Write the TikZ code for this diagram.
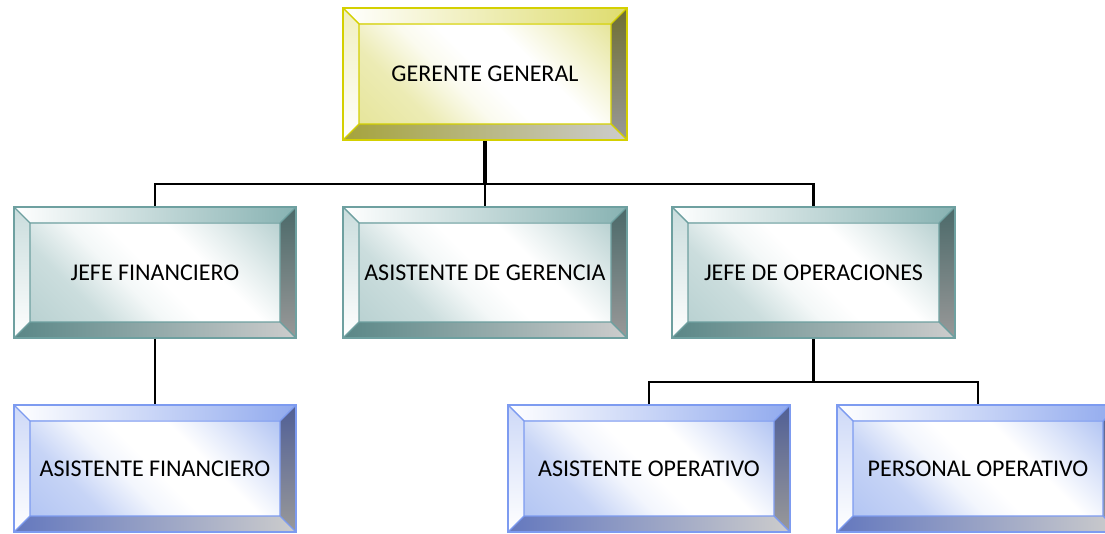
\documentclass[tikz,border=0pt]{standalone}
\usepackage{fontspec}
\setmainfont{Carlito}
\definecolor{YB}{RGB}{212,208,0}
\definecolor{YF}{RGB}{214,212,90}
\definecolor{YT}{RGB}{222,220,110}
\definecolor{YR}{RGB}{110,110,50}
\definecolor{YD}{RGB}{165,163,60}
\definecolor{TB}{RGB}{110,160,160}
\definecolor{TF}{RGB}{140,180,180}
\definecolor{TT}{RGB}{135,178,178}
\definecolor{TR}{RGB}{75,105,105}
\definecolor{TD}{RGB}{90,135,135}
\definecolor{BB}{RGB}{125,155,240}
\definecolor{BF}{RGB}{130,160,235}
\definecolor{BT}{RGB}{145,170,238}
\definecolor{BR}{RGB}{80,95,150}
\definecolor{BD}{RGB}{100,120,190}
\pgfdeclareverticalshading{Yface}{100bp}{color(0bp)=(YF!75); color(30bp)=(YF!45); color(42bp)=(YF!10); color(50bp)=(white); color(62bp)=(white); color(72bp)=(YF!25); color(100bp)=(YF)}
\pgfdeclareverticalshading{Tface}{100bp}{color(0bp)=(TF!75); color(30bp)=(TF!45); color(42bp)=(TF!10); color(50bp)=(white); color(62bp)=(white); color(72bp)=(TF!25); color(100bp)=(TF)}
\pgfdeclareverticalshading{Bface}{100bp}{color(0bp)=(BF!75); color(30bp)=(BF!45); color(42bp)=(BF!10); color(50bp)=(white); color(62bp)=(white); color(72bp)=(BF!25); color(100bp)=(BF)}
\tikzset{
  conn/.style={draw=black, line width=2.4pt},
  orgnode/.style={rectangle, inner sep=0pt, line width=1.6pt, font=\fontsize{24}{28}\selectfont, text=black},
  bevedge/.style={line width=1.4pt},
}
\newcommand\bv{16}
% #1 name, #2 x, #3 y, #4 w, #5 h, #6 scheme, #7 text
\newcommand\orgbox[7]{%
  \coordinate (#1-a) at ({#2-#4/2},{#3+#5/2});
  \coordinate (#1-b) at ({#2+#4/2},{#3+#5/2});
  \coordinate (#1-c) at ({#2+#4/2},{#3-#5/2});
  \coordinate (#1-d) at ({#2-#4/2},{#3-#5/2});
  \coordinate (#1-A) at ({#2-#4/2+\bv},{#3+#5/2-\bv});
  \coordinate (#1-B) at ({#2+#4/2-\bv},{#3+#5/2-\bv});
  \coordinate (#1-C) at ({#2+#4/2-\bv},{#3-#5/2+\bv});
  \coordinate (#1-D) at ({#2-#4/2+\bv},{#3-#5/2+\bv});
  \shade[left color=white, right color=#6T] (#1-a) -- (#1-b) -- (#1-B) -- (#1-A) -- cycle;
  \shade[top color=#6T!45, bottom color=white] (#1-a) -- (#1-A) -- (#1-D) -- (#1-d) -- cycle;
  \shade[top color=#6R, bottom color=black!40] (#1-b) -- (#1-c) -- (#1-C) -- (#1-B) -- cycle;
  \shade[left color=#6D, right color=black!20] (#1-d) -- (#1-D) -- (#1-C) -- (#1-c) -- cycle;
  \shade[shading=#6face, shading angle=-45] (#1-A) rectangle (#1-C);
  \draw[bevedge, draw=#6B] (#1-A) rectangle (#1-C) (#1-a) -- (#1-A) (#1-b) -- (#1-B) (#1-c) -- (#1-C) (#1-d) -- (#1-D);
  \node[orgnode, draw=#6B, minimum width=#4pt, minimum height=#5pt] (#1) at (#2,#3) {#7};
}
\begin{document}
\begin{tikzpicture}[x=1pt, y=1pt]
\useasboundingbox (0,0) rectangle (1105,534);
\clip (0,0) rectangle (1105,534);
\orgbox{GG}{485}{460}{284}{132}{Y}{GERENTE GENERAL}
\orgbox{JF}{155}{261.5}{282}{131}{T}{JEFE FINANCIERO}
\orgbox{AG}{485}{261.5}{284}{131}{T}{ASISTENTE DE GERENCIA}
\orgbox{JO}{813.5}{261.5}{283}{131}{T}{JEFE DE OPERACIONES}
\orgbox{AF}{155}{65.5}{282}{127}{B}{ASISTENTE FINANCIERO}
\orgbox{AO}{649}{65.5}{282}{127}{B}{ASISTENTE OPERATIVO}
\orgbox{PO}{978}{65.5}{282}{127}{B}{PERSONAL OPERATIVO}
\coordinate (bus1) at (485,350);
\coordinate (bus2) at (813.5,152);
\draw[conn, line width=3.2pt] (GG.south) -- (bus1);
\draw[conn] (bus1) -- (AG.north);
\draw[conn] (JF.north) |- (bus1) -| (JO.north);
\draw[conn] (JF.south) -- (AF.north);
\draw[conn] (JO.south) -- (bus2);
\draw[conn] (AO.north) |- (bus2) -| (PO.north);
\end{tikzpicture}
\end{document}
